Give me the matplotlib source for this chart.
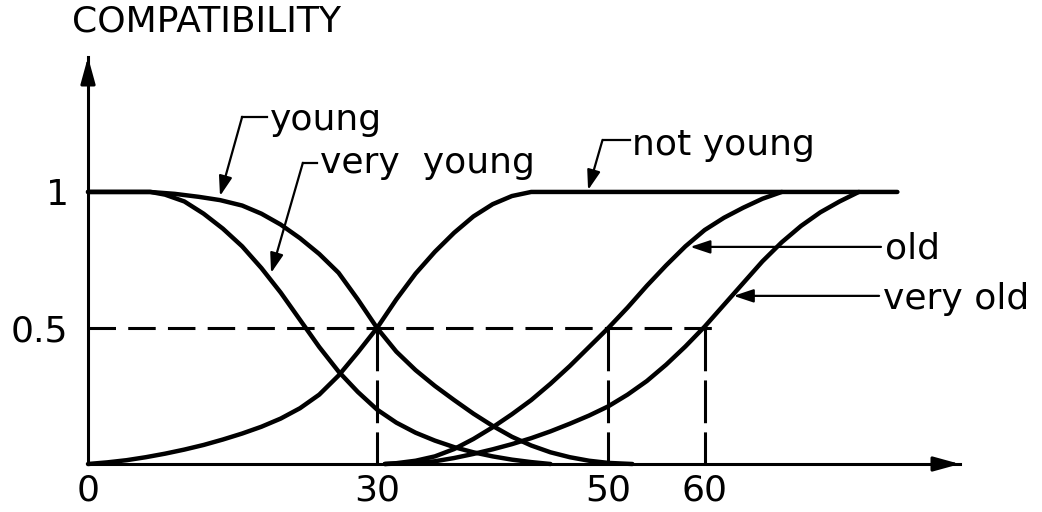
import matplotlib
matplotlib.use("Agg")
import matplotlib.pyplot as plt

# positions along the hand-drawn age axis (the drawing is not to scale,
# so the tick labels sit at their drawn positions)
tick_pos = [0, 30, 54, 64]
tick_labels = ["0", "30", "50", "60"]

young_x = [0, 6.4, 9, 11.5, 13.7, 16, 18, 20, 22, 24, 26, 28, 30, 32, 34, 36,
           38, 40, 42, 44, 46, 48, 50, 52, 54, 56.5]
young_y = [1, 1, 0.993, 0.982, 0.97, 0.95, 0.92, 0.88, 0.83, 0.772, 0.703,
           0.605, 0.5, 0.413, 0.345, 0.287, 0.235, 0.185, 0.14, 0.10, 0.068,
           0.043, 0.025, 0.012, 0.004, 0]

very_young_x = [0, 6.5, 8, 10, 12, 14, 16, 18, 20, 22, 24, 26, 28, 30, 32, 34,
                36, 38, 40, 42, 44, 46, 48]
very_young_y = [1, 1, 0.99, 0.965, 0.92, 0.865, 0.80, 0.72, 0.63, 0.53, 0.43,
                0.34, 0.265, 0.2, 0.152, 0.115, 0.086, 0.062, 0.043, 0.028,
                0.016, 0.007, 0]

not_young_x = [0, 2, 4, 6, 8, 10, 12, 14, 16, 18, 20, 22, 24, 26, 28, 30, 32,
               34, 36, 38, 40, 42, 44, 46, 84]
not_young_y = [0, 0.006, 0.014, 0.025, 0.038, 0.053, 0.07, 0.09, 0.112,
               0.137, 0.167, 0.205, 0.255, 0.325, 0.41, 0.5, 0.605, 0.70,
               0.78, 0.85, 0.91, 0.955, 0.985, 1, 1]

old_x = [30.8, 32, 34, 36, 38, 40, 42, 44, 46, 48, 50, 52, 54, 56, 58, 60, 62,
         64, 66, 68, 70, 72]
old_y = [0, 0.003, 0.012, 0.028, 0.055, 0.092, 0.135, 0.183, 0.235, 0.295,
         0.36, 0.43, 0.5, 0.575, 0.655, 0.73, 0.80, 0.86, 0.905, 0.942,
         0.975, 1]

very_old_x = [30.8, 34, 36, 38, 40, 42, 44, 46, 48, 50, 52, 54, 56, 58, 60,
              62, 64, 66, 68, 70, 72, 74, 76, 78, 80]
very_old_y = [0, 0.004, 0.01, 0.022, 0.037, 0.054, 0.073, 0.095, 0.12, 0.148,
              0.178, 0.212, 0.255, 0.305, 0.365, 0.432, 0.505, 0.585, 0.665,
              0.745, 0.815, 0.875, 0.925, 0.965, 1]

# label text, text anchor (x, baseline), leader corner, arrow tip
labels = [
    ("young",       (18.9, 1.228), (16.0, 1.276), (13.7, 0.985)),
    ("very  young", (24.1, 1.070), (22.3, 1.107), (19.0, 0.702)),
    ("not young",   (56.5, 1.136), (53.4, 1.191), (51.9, 1.007)),
    ("old",         (82.7, 0.757), None,          (62.5, 0.798)),
    ("very old",    (82.5, 0.570), None,          (67.0, 0.618)),
]

FS = 26
plt.rcParams["font.family"] = ["DejaVu Sans"]

fig = plt.figure(figsize=(10.42, 5.12), dpi=100)
ax = fig.add_axes([88 / 1042, 48 / 512, 872 / 1042, 407 / 512])
ax.set_xlim(0, 90.5)
ax.set_ylim(0, 1.496)

for s in ["top", "right"]:
    ax.spines[s].set_visible(False)
for s in ["left", "bottom"]:
    ax.spines[s].set_linewidth(2.2)

# arrow heads on the axes
head = dict(arrowstyle="-|>,head_length=0.8,head_width=0.22", color="black",
            lw=2.2, mutation_scale=20, shrinkA=0, shrinkB=0)
ax.annotate("", xy=(1, 0), xytext=(0.97, 0), xycoords="axes fraction",
            arrowprops=head, annotation_clip=False)
ax.annotate("", xy=(0, 1), xytext=(0, 0.95), xycoords="axes fraction",
            arrowprops=head, annotation_clip=False)

ax.set_xticks(tick_pos, tick_labels, fontsize=FS)
ax.set_yticks([0.5, 1], ["0.5", "1"], fontsize=FS)
ax.tick_params(length=0, pad=7)
ax.tick_params(axis="y", pad=14)

# dashed guides
ax.plot([0, 65.8], [0.5, 0.5], color="black", lw=2.2, ls=(0, (9, 4)))
for t in tick_pos[1:]:
    ax.plot([t, t], [0.5, 0], color="black", lw=2.2, ls=(0, (14, 3)))

curve = dict(color="black", lw=3.2, solid_capstyle="round",
             solid_joinstyle="round", clip_on=False)
ax.plot(young_x, young_y, **curve)
ax.plot(very_young_x, very_young_y, **curve)
ax.plot(not_young_x, not_young_y, **curve)
ax.plot(old_x, old_y, **curve)
ax.plot(very_old_x, very_old_y, **curve)

leader = dict(arrowstyle="-|>,head_length=0.6,head_width=0.2", color="black",
              lw=1.6, mutation_scale=20, shrinkA=0, shrinkB=0)
for text, (tx, ty), corner, tip in labels:
    ax.text(tx, ty, text, fontsize=FS, ha="left", va="baseline")
    if corner is not None:
        ax.plot([tx - 0.3, corner[0]], [corner[1], corner[1]], color="black",
                lw=1.6)
        ax.annotate("", xy=tip, xytext=corner, arrowprops=leader)
    else:
        ax.annotate("", xy=tip, xytext=(tx - 0.4, tip[1]), arrowprops=leader)

ax.text(-0.018, 1.088, "COMPATIBILITY", transform=ax.transAxes, fontsize=FS,
        ha="left", va="center")

fig.savefig("out.png", dpi=100)
